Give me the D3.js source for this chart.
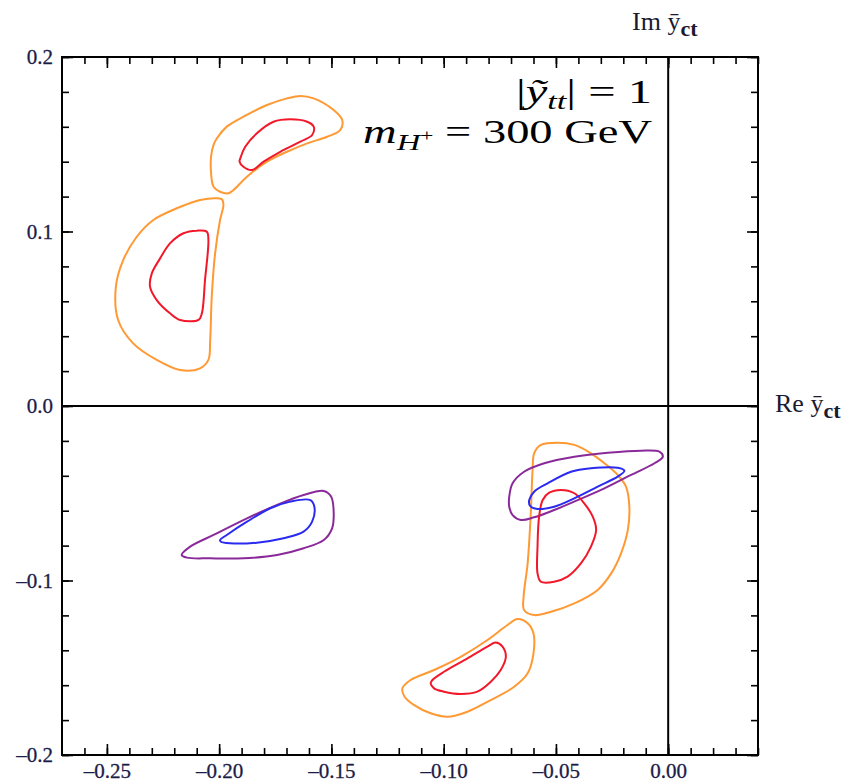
<!DOCTYPE html>
<html>
<head>
<meta charset="utf-8">
<script src="https://cdn.jsdelivr.net/npm/d3@7/dist/d3.min.js"></script>
<style>
body { margin: 0; background: #fff; }
text { font-family: "Liberation Serif", "DejaVu Serif", serif; }
</style>
</head>
<body>
<svg id="chart" width="848" height="784"></svg>
<script>
"use strict";

// Axis ticks (values and labels as printed)
const xMajor = [-0.25, -0.20, -0.15, -0.10, -0.05, 0.00];
const xMajorLabels = ["\u20130.25", "\u20130.20", "\u20130.15", "\u20130.10", "\u20130.05", "0.00"];
const yMajor = [0.2, 0.1, 0.0, -0.1, -0.2];
const yMajorLabels = ["0.2", "0.1", "0.0", "\u20130.1", "\u20130.2"];
const xMinor = d3.range(-26, 5).map(i => i / 100);
const yMinor = d3.range(-10, 11).map(i => i / 50);

// Contours, [Re, Im]
const orangeUpperA = [[-0.2010,0.1534],[-0.1966,0.1601],[-0.1892,0.1658],[-0.1787,0.1725],[-0.1698,0.1763],[-0.1638,0.1777],[-0.1579,0.1763],[-0.1490,0.1696],[-0.1452,0.1639],[-0.1460,0.1582],[-0.1519,0.1543],[-0.1608,0.1505],[-0.1698,0.1457],[-0.1787,0.1400],[-0.1876,0.1314],[-0.1936,0.1238],[-0.1958,0.1219],[-0.1996,0.1228],[-0.2025,0.1257],[-0.2036,0.1334],[-0.2036,0.1429],[-0.2025,0.1496]];
const redUpperA = [[-0.1906,0.1419],[-0.1884,0.1486],[-0.1832,0.1563],[-0.1758,0.1629],[-0.1683,0.1643],[-0.1608,0.1629],[-0.1579,0.1601],[-0.1586,0.1553],[-0.1638,0.1515],[-0.1728,0.1457],[-0.1802,0.1400],[-0.1854,0.1352],[-0.1892,0.1371],[-0.1909,0.1400]];
const orangeUpperB = [[-0.2003,0.1190],[-0.2085,0.1181],[-0.2189,0.1133],[-0.2293,0.1066],[-0.2367,0.0970],[-0.2427,0.0837],[-0.2460,0.0684],[-0.2450,0.0493],[-0.2383,0.0359],[-0.2278,0.0264],[-0.2174,0.0206],[-0.2085,0.0216],[-0.2048,0.0264],[-0.2040,0.0378],[-0.2033,0.0626],[-0.2018,0.0875],[-0.1996,0.1066],[-0.1981,0.1152],[-0.1988,0.1185]];
const redUpperB = [[-0.2055,0.0999],[-0.2100,0.1005],[-0.2159,0.0990],[-0.2219,0.0932],[-0.2263,0.0846],[-0.2300,0.0760],[-0.2308,0.0684],[-0.2278,0.0607],[-0.2219,0.0531],[-0.2174,0.0493],[-0.2092,0.0493],[-0.2077,0.0531],[-0.2063,0.0722],[-0.2048,0.0951]];
const orangeRight = [[-0.0597,-0.0271],[-0.0567,-0.0223],[-0.0492,-0.0210],[-0.0418,-0.0223],[-0.0344,-0.0271],[-0.0284,-0.0328],[-0.0225,-0.0395],[-0.0188,-0.0462],[-0.0173,-0.0577],[-0.0180,-0.0711],[-0.0210,-0.0844],[-0.0254,-0.0959],[-0.0314,-0.1054],[-0.0418,-0.1131],[-0.0522,-0.1179],[-0.0597,-0.1198],[-0.0642,-0.1169],[-0.0644,-0.1093],[-0.0626,-0.0901],[-0.0612,-0.0615],[-0.0604,-0.0367]];
const purpleRight = [[-0.0708,-0.0520],[-0.0693,-0.0443],[-0.0642,-0.0377],[-0.0552,-0.0328],[-0.0418,-0.0291],[-0.0269,-0.0268],[-0.0121,-0.0256],[-0.0039,-0.0262],[-0.0024,-0.0291],[-0.0061,-0.0328],[-0.0165,-0.0395],[-0.0284,-0.0472],[-0.0403,-0.0539],[-0.0508,-0.0596],[-0.0597,-0.0638],[-0.0656,-0.0653],[-0.0693,-0.0625],[-0.0708,-0.0577]];
const blueRight = [[-0.0619,-0.0539],[-0.0597,-0.0491],[-0.0537,-0.0443],[-0.0433,-0.0377],[-0.0344,-0.0357],[-0.0225,-0.0354],[-0.0195,-0.0371],[-0.0225,-0.0405],[-0.0314,-0.0462],[-0.0418,-0.0529],[-0.0508,-0.0577],[-0.0582,-0.0590],[-0.0615,-0.0573]];
const redRight = [[-0.0559,-0.0539],[-0.0530,-0.0497],[-0.0478,-0.0481],[-0.0418,-0.0500],[-0.0374,-0.0558],[-0.0336,-0.0634],[-0.0321,-0.0711],[-0.0344,-0.0806],[-0.0388,-0.0901],[-0.0448,-0.0978],[-0.0508,-0.1007],[-0.0567,-0.1007],[-0.0582,-0.0959],[-0.0582,-0.0806],[-0.0575,-0.0634]];
const purpleLeft = [[-0.2167,-0.0854],[-0.2129,-0.0806],[-0.2025,-0.0739],[-0.1876,-0.0644],[-0.1742,-0.0567],[-0.1624,-0.0510],[-0.1534,-0.0487],[-0.1501,-0.0520],[-0.1490,-0.0606],[-0.1497,-0.0701],[-0.1534,-0.0768],[-0.1624,-0.0815],[-0.1742,-0.0854],[-0.1892,-0.0873],[-0.2040,-0.0873],[-0.2144,-0.0869]];
const blueLeft = [[-0.1996,-0.0768],[-0.1966,-0.0739],[-0.1876,-0.0663],[-0.1772,-0.0586],[-0.1683,-0.0548],[-0.1594,-0.0539],[-0.1576,-0.0577],[-0.1586,-0.0663],[-0.1624,-0.0720],[-0.1713,-0.0758],[-0.1832,-0.0783],[-0.1951,-0.0787],[-0.1992,-0.0778]];
const orangeBottom = [[-0.1184,-0.1618],[-0.1147,-0.1570],[-0.1043,-0.1513],[-0.0924,-0.1437],[-0.0805,-0.1341],[-0.0716,-0.1255],[-0.0671,-0.1221],[-0.0626,-0.1245],[-0.0600,-0.1303],[-0.0600,-0.1417],[-0.0626,-0.1532],[-0.0686,-0.1609],[-0.0790,-0.1685],[-0.0894,-0.1752],[-0.0983,-0.1781],[-0.1058,-0.1761],[-0.1133,-0.1713],[-0.1174,-0.1666]];
const redBottom = [[-0.1050,-0.1570],[-0.0999,-0.1523],[-0.0894,-0.1446],[-0.0805,-0.1379],[-0.0768,-0.1356],[-0.0738,-0.1379],[-0.0723,-0.1437],[-0.0746,-0.1513],[-0.0790,-0.1580],[-0.0850,-0.1637],[-0.0924,-0.1650],[-0.0999,-0.1637],[-0.1043,-0.1618],[-0.1058,-0.1589]];

const colors = {orange: "#ff9933", red: "#f2182a", blue: "#2a2af0", purple: "#8a2a9a"};

const contours = [
	{pts: orangeUpperA, color: colors.orange},
	{pts: orangeUpperB, color: colors.orange},
	{pts: orangeRight, color: colors.orange},
	{pts: orangeBottom, color: colors.orange},
	{pts: purpleRight, color: colors.purple},
	{pts: purpleLeft, color: colors.purple},
	{pts: redUpperA, color: colors.red},
	{pts: redUpperB, color: colors.red},
	{pts: redRight, color: colors.red},
	{pts: redBottom, color: colors.red},
	{pts: blueRight, color: colors.blue},
	{pts: blueLeft, color: colors.blue}
];

// Layout
const mLeft = 62, mRight = 758, mTop = 57, mBottom = 755;
const x = d3.scaleLinear().domain([-0.27, 0.04]).range([mLeft, mRight]);
const y = d3.scaleLinear().domain([-0.2, 0.2]).range([mBottom, mTop]);

const svg = d3.select("#chart");

// contours
const line = d3.line()
	.x(d => x(d[0]))
	.y(d => y(d[1]))
	.curve(d3.curveCatmullRomClosed.alpha(0.5));

svg.append("g")
	.selectAll("path")
	.data(contours)
	.enter()
	.append("path")
	.attr("d", d => line(d.pts))
	.attr("fill", "none")
	.attr("stroke", d => d.color)
	.attr("stroke-width", 2)
	.attr("stroke-linejoin", "round");

// zero lines
svg.append("line")
	.attr("x1", x(0)).attr("x2", x(0))
	.attr("y1", mTop).attr("y2", mBottom)
	.attr("stroke", "#000").attr("stroke-width", 2);
svg.append("line")
	.attr("x1", mLeft).attr("x2", mRight)
	.attr("y1", y(0)).attr("y2", y(0))
	.attr("stroke", "#000").attr("stroke-width", 2);

// inward ticks on all four sides
function ticks(axis, transform, values, size, labels) {
	const g = svg.append("g")
		.attr("transform", transform)
		.call(axis
			.tickValues(values)
			.tickSizeInner(-size)
			.tickSizeOuter(0)
			.tickFormat((d, i) => labels ? labels[i] : ""));
	g.select(".domain").remove();
	g.selectAll(".tick line").attr("stroke", "#000").attr("stroke-width", 1.6);
	return g;
}

ticks(d3.axisBottom(x), `translate(0,${mBottom})`, xMinor, 7);
ticks(d3.axisTop(x), `translate(0,${mTop})`, xMinor, 7);
ticks(d3.axisLeft(y), `translate(${mLeft},0)`, yMinor, 7);
ticks(d3.axisRight(y), `translate(${mRight},0)`, yMinor, 7);
ticks(d3.axisTop(x), `translate(0,${mTop})`, xMajor, 11);
ticks(d3.axisRight(y), `translate(${mRight},0)`, yMajor, 11);

const xl = ticks(d3.axisBottom(x).tickPadding(8), `translate(0,${mBottom})`, xMajor, 11, xMajorLabels);
const yl = ticks(d3.axisLeft(y).tickPadding(9), `translate(${mLeft},0)`, yMajor, 11, yMajorLabels);
[xl, yl].forEach(g => g.attr("font-family", null).attr("font-size", null)
	.selectAll(".tick text")
	.attr("fill", "#1c1c48")
	.attr("stroke", "#1c1c48")
	.attr("stroke-width", 0.3)
	.style("font-family", "'Liberation Serif', serif")
	.style("font-size", "21px"));

// frame
svg.append("rect")
	.attr("x", mLeft).attr("y", mTop)
	.attr("width", mRight - mLeft).attr("height", mBottom - mTop)
	.attr("fill", "none").attr("stroke", "#000").attr("stroke-width", 2);

// axis names
function axisName(px, py, base) {
	const t = svg.append("text")
		.attr("x", px).attr("y", py)
		.attr("fill", "#1a1a30")
		.style("font-size", "26px");
	t.append("tspan").text(base + " \u0233");
	t.append("tspan").attr("dy", 6).style("font-weight", "bold").style("font-size", "22px").text("ct");
}
axisName(632, 30, "Im");
axisName(775, 412, "Re");

// annotation, stretched to the width it has in the original
function fitNote(text, width) {
	const w = text.node().getComputedTextLength();
	const tr = text.attr("transform");
	text.attr("transform", `${tr} scale(${width / w},1)`);
}

const note1 = svg.append("text")
	.attr("transform", "translate(652,103)")
	.attr("text-anchor", "end")
	.style("font-size", "34px");
note1.append("tspan").text("|");
note1.append("tspan").style("font-style", "italic").text("\u1EF9");
note1.append("tspan").attr("dy", 6).style("font-style", "italic").style("font-size", "24px").text("tt");
note1.append("tspan").attr("dy", -6).text("| = 1");
fitNote(note1, 136);

const note2 = svg.append("text")
	.attr("transform", "translate(652,143)")
	.attr("text-anchor", "end")
	.style("font-size", "34px");
note2.append("tspan").style("font-style", "italic").text("m");
note2.append("tspan").attr("dy", 7).style("font-style", "italic").style("font-size", "24px").text("H");
note2.append("tspan").attr("dy", -9).style("font-size", "17px").text("+");
note2.append("tspan").attr("dy", 2).text(" = 300 GeV");
fitNote(note2, 289);
</script>
</body>
</html>
